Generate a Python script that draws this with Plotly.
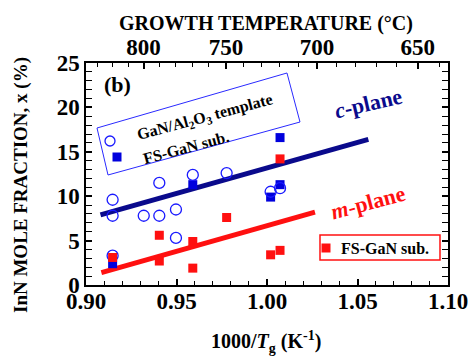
import plotly.graph_objects as go

# ---- data ----
c_temp_x = [0.9147, 0.9147, 0.9147, 0.9319, 0.9405, 0.9405, 0.9497, 0.9497, 0.959, 0.9777, 1.002, 1.0072]
c_temp_y = [9.6, 7.8, 3.3, 7.8, 11.5, 7.8, 8.5, 5.3, 12.4, 12.6, 10.5, 10.9]

c_fs_x = [0.9147, 0.959, 1.002, 1.0072, 1.0072]
c_fs_y = [2.4, 11.3, 9.9, 11.3, 16.6]

m_fs_x = [0.9147, 0.9405, 0.9405, 0.959, 0.959, 0.9777, 1.002, 1.0072, 1.0072]
m_fs_y = [3.1, 5.6, 2.7, 4.9, 1.9, 7.6, 3.4, 3.9, 14.2]

c_fit_x = [0.908, 1.056]
c_fit_y = [7.9, 16.4]
m_fit_x = [0.9085, 1.0265]
m_fit_y = [1.4, 8.2]

x_ticks = [0.90, 0.95, 1.00, 1.05, 1.10]
y_ticks = [0, 5, 10, 15, 20, 25]
top_temps_major = [800, 750, 700, 650]
top_temps_minor = list(range(830, 639, -10))

FONT = "Liberation Serif"
NAVY = "#0a0a8c"
BLUE = "#1a1aff"
RED = "#ff1010"

def t2x(t):
    return 1000.0 / (t + 273.15)

fig = go.Figure()

fig.add_trace(go.Scatter(x=c_fit_x, y=c_fit_y, mode="lines",
                         line=dict(color=NAVY, width=5), showlegend=False))
fig.add_trace(go.Scatter(x=m_fit_x, y=m_fit_y, mode="lines",
                         line=dict(color=RED, width=5), showlegend=False))
fig.add_trace(go.Scatter(x=c_fs_x, y=c_fs_y, mode="markers",
                         marker=dict(symbol="square", size=9, color="#0000dd"),
                         showlegend=False))
fig.add_trace(go.Scatter(x=c_temp_x, y=c_temp_y, mode="markers",
                         marker=dict(symbol="circle-open", size=11, color=BLUE,
                                     line=dict(width=1.3, color=BLUE)),
                         showlegend=False))
fig.add_trace(go.Scatter(x=m_fs_x, y=m_fs_y, mode="markers",
                         marker=dict(symbol="square", size=9, color=RED),
                         showlegend=False))
# dummy trace to activate top axis
fig.add_trace(go.Scatter(x=[0.95], y=[None], xaxis="x2", showlegend=False, hoverinfo="skip"))

tickfont = dict(family=FONT, size=23, color="black", weight="bold")

fig.update_layout(
    width=470, height=358,
    margin=dict(l=86, r=22, t=63, b=73),
    paper_bgcolor="white", plot_bgcolor="white",
    font=dict(family=FONT, color="black"),
    xaxis=dict(
        range=[0.9, 1.1], tickmode="array", tickvals=x_ticks,
        ticktext=[f"{v:.2f}" for v in x_ticks], automargin=False,
        ticks="inside", ticklen=6, tickwidth=1.5, tickcolor="black",
        minor=dict(dtick=0.01, tick0=0.9, ticks="inside", ticklen=4, tickwidth=1, tickcolor="black"),
        showline=True, linecolor="black", linewidth=1.5, mirror=False,
        showgrid=False, zeroline=False, tickfont=tickfont, ticklabelstandoff=-5,
    ),
    xaxis2=dict(
        overlaying="x", side="top", range=[0.9, 1.1], tickmode="array",
        tickvals=[t2x(t) for t in top_temps_major], automargin=False,
        ticktext=[str(t) for t in top_temps_major],
        ticks="inside", ticklen=6, tickwidth=1.5, tickcolor="black",
        minor=dict(tickmode="array", tickvals=[t2x(t) for t in top_temps_minor],
                   ticks="inside", ticklen=4, tickwidth=1, tickcolor="black"),
        showline=True, linecolor="black", linewidth=1.5,
        showgrid=False, zeroline=False, tickfont=tickfont, ticklabelstandoff=-3,
    ),
    yaxis=dict(
        range=[0, 25], tickmode="array", tickvals=y_ticks, automargin=False,
        ticks="inside", ticklen=6, tickwidth=1.5, tickcolor="black",
        minor=dict(dtick=1, tick0=0, ticks="inside", ticklen=4, tickwidth=1, tickcolor="black"),
        showline=True, linecolor="black", linewidth=1.5, mirror="allticks",
        showgrid=False, zeroline=False, tickfont=tickfont,
    ),
)

# decorations (legend boxes, labels) in paper coordinates
def pp(px, py):
    return (px - 86) / 362.0, (285 - py) / 222.0

corners = [pp(97, 128), pp(287, 73), pp(300, 122), pp(108, 175)]
path = "M " + " L ".join(f"{x:.4f},{y:.4f}" for x, y in corners) + " Z"
fig.add_shape(type="path", path=path, xref="paper", yref="paper",
              line=dict(color="#2a2aff", width=1))

rx0, ry1 = pp(320, 235)
rx1, ry0 = pp(440, 260)
fig.add_shape(type="rect", x0=rx0, x1=rx1, y0=ry0, y1=ry1, xref="paper", yref="paper",
              line=dict(color=RED, width=1.5))

def marker_shape(px, py, kind, color):
    ax, ay = pp(px, py)
    r = 5 if kind == "circle" else 4.5
    fig.add_shape(type=kind, xref="paper", yref="paper",
                  xsizemode="pixel", ysizemode="pixel", xanchor=ax, yanchor=ay,
                  x0=-r, x1=r, y0=-r, y1=r,
                  line=dict(color=color, width=1.3 if kind == "circle" else 0),
                  fillcolor="rgba(0,0,0,0)" if kind == "circle" else color)

marker_shape(110, 141, "circle", BLUE)
marker_shape(117, 157, "rect", "#0000dd")
marker_shape(326, 248, "rect", RED)

def ann(px, py, text, size, color="black", angle=0):
    x, y = pp(px, py)
    fig.add_annotation(x=x, y=y, xref="paper", yref="paper", text=text, showarrow=False,
                       textangle=angle, font=dict(family=FONT, size=size, color=color),
                       xanchor="center", yanchor="middle")

ann(117, 84, "<b>(b)</b>", 22)
ann(205, 117, "<b>GaN/Al<sub>2</sub>O<sub>3</sub> template</b>", 16, angle=-15)
ann(186, 147, "<b>FS-GaN sub.</b>", 16, angle=-15)
ann(368, 103, "<b><i>c</i>-plane</b>", 22, color=NAVY, angle=-13)
ann(368, 202, "<b><i>m</i>-plane</b>", 22, color=RED, angle=-15)
ann(385, 248, "<b>FS-GaN sub.</b>", 16)

# axis titles
ann(266, 23, "<b>GROWTH TEMPERATURE (°C)</b>", 20)
ann(266, 342, "<b>1000/<i>T</i><sub>g</sub> (K<sup>-1</sup>)</b>", 20)
ann(21, 185, "<b>InN MOLE FRACTION, x (%)</b>", 19, angle=-90)

fig.write_html("out.html", config={"displayModeBar": False},
               post_script="document.body.style.margin='0';document.body.style.padding='0';")
